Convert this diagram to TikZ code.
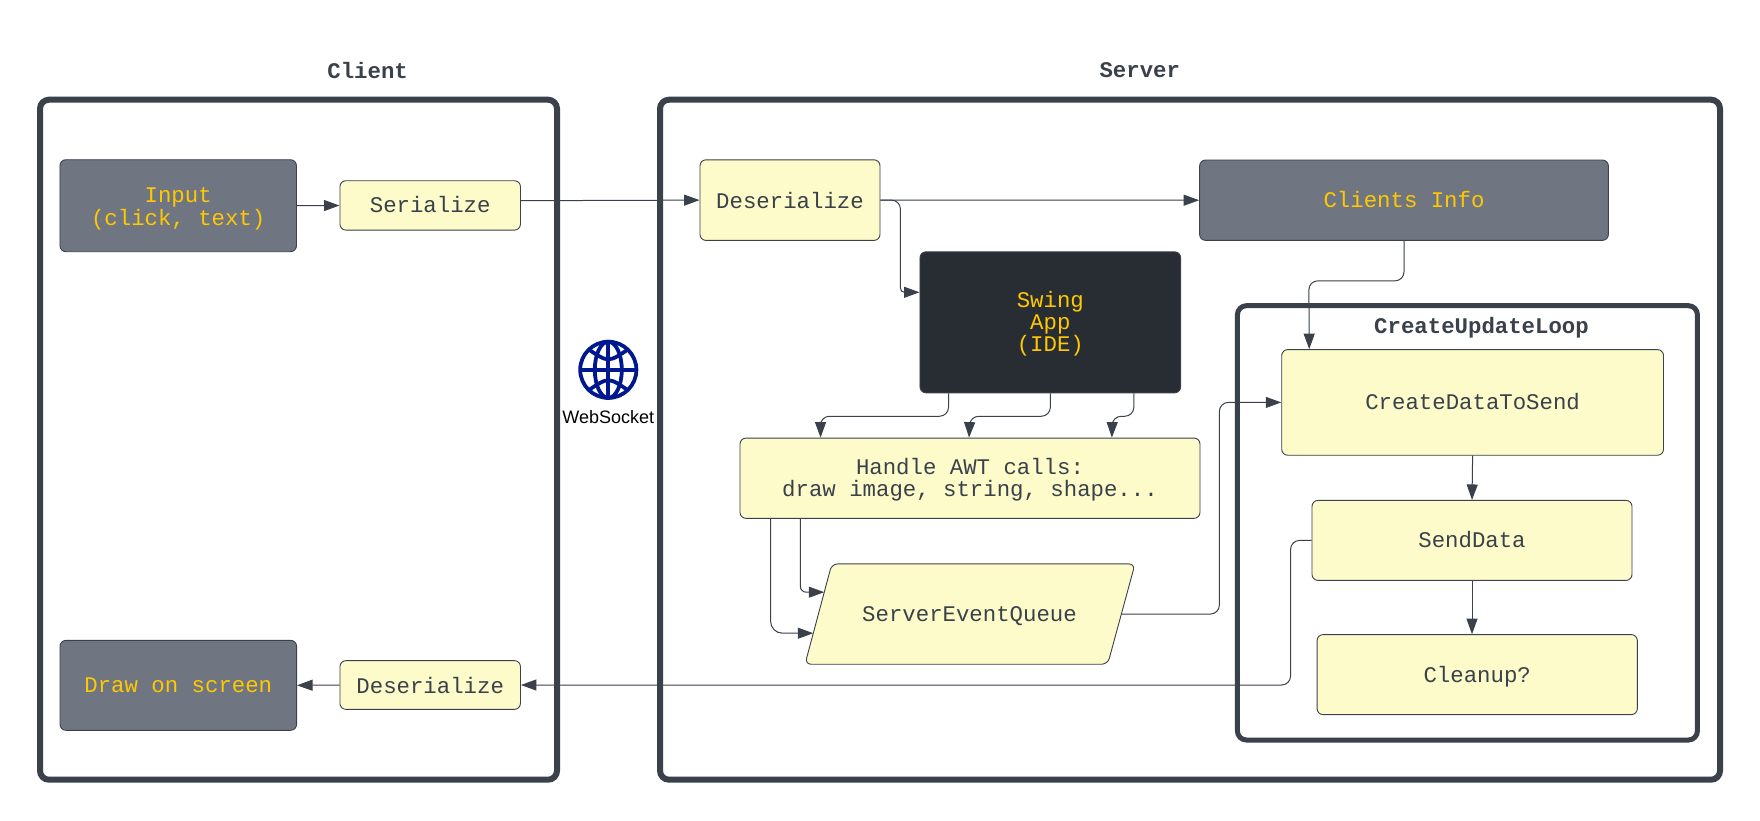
\documentclass[tikz,border=0pt]{standalone}
\usepackage{fontspec}
\setmainfont{Liberation Sans}
\setmonofont{Liberation Mono}
\usetikzlibrary{arrows.meta,calc}
\definecolor{ink}{HTML}{3A414A}
\definecolor{paleyellow}{HTML}{FCFBC9}
\definecolor{midgrey}{HTML}{6F7681}
\definecolor{nearblack}{HTML}{282C33}
\definecolor{gold}{HTML}{FFC800}
\definecolor{netblue}{HTML}{00188F}
\newcommand{\basedrop}[2]{\raisebox{-#1pt}[0pt][0pt]{#2}}
\tikzset{
  x=1pt,y=-1pt,
  boxtext/.style={font=\ttfamily\fontsize{22.35}{22.4}\selectfont},
  boxbase/.style={rectangle,rounded corners=6pt,draw=ink,line width=0.9pt,inner sep=0pt,align=center,boxtext},
  yellowbox/.style={boxbase,fill=paleyellow,text=ink},
  greybox/.style={boxbase,fill=midgrey,text=gold},
  darkbox/.style={boxbase,fill=nearblack,text=gold},
  frame/.style={draw=ink,line width=6pt,rounded corners=9pt},
  titletext/.style={inner sep=0pt,text=ink,font=\ttfamily\bfseries\fontsize{22.35}{24}\selectfont},
  conn/.style={draw=ink,line width=1pt,rounded corners=9pt,-{Triangle[length=15.5pt,width=11pt]}},
  wsz/.style n args={2}{minimum width=#1pt,minimum height=#2pt},
}
\begin{document}
\begin{tikzpicture}
\useasboundingbox (0,0) rectangle (1760,820);
\fill[white] (0,0) rectangle (1760,820);
% frames
\draw[frame] (40,99.7) rectangle (557,779.7);
\draw[frame] (660,99.7) rectangle (1720,779.7);
\draw[frame,line width=5pt] (1237.4,305.7) rectangle (1697.4,740);
% titles
\node[titletext] (tclient) at (367.6,70.5) {Client};
\node[titletext] (tserver) at (1139.8,70) {Server};
\node[titletext] (tloop) at (1481.5,328) {CreateUpdateLoop};
% client nodes
\node[greybox,wsz={236.5}{92}] (input) at (178.2,205.7) {\rule{0pt}{21.4pt}Input\\(click, text)};
\node[yellowbox,wsz={180.5}{49.4}] (ser) at (430.2,205.4) {\basedrop{7}{Serialize}};
\node[greybox,wsz={236.6}{90}] (screen) at (178.3,685.3) {Draw on screen};
\node[yellowbox,wsz={180.5}{48.7}] (dcl) at (430.2,685) {Deserialize};
% server nodes
\node[yellowbox,wsz={180}{80.6}] (dsv) at (790,200.1) {Deserialize};
\node[greybox,wsz={408.8}{80.4}] (info) at (1404,200.2) {\basedrop{7}{Clients Info}};
\node[darkbox,wsz={260.7}{141}] (swing) at (1050.3,322.3) {\rule{0pt}{19pt}Swing\\App\\(IDE)};
\node[yellowbox,wsz={460}{80.3}] (awt) at (970,478.2) {\rule{0pt}{19.4pt}Handle AWT calls:\\draw image, string, shape...};
% parallelogram outline, with its label node on top
\coordinate (qtl) at (831.8,563.9);
\coordinate (qtr) at (1135,563.9);
\coordinate (qbr) at (1107.7,664.2);
\coordinate (qbl) at (805,664.2);
\draw[draw=ink,fill=paleyellow,line width=0.9pt,rounded corners=6pt] (qtl) -- (qtr) -- (qbr) -- (qbl) -- cycle;
\node[inner sep=0pt,text=ink,boxtext] (queue) at (969.5,616) {ServerEventQueue};
\coordinate (qin1) at ($(qbl)!0.309!(qtl)$);
\coordinate (qin2) at ($(qbl)!0.718!(qtl)$);
\coordinate (qout) at ($(qbr)!0.5!(qtr)$);
\node[yellowbox,wsz={381.8}{105.6}] (cdts) at (1472.6,402.4) {\basedrop{6.7}{CreateDataToSend}};
\node[yellowbox,wsz={320}{80}] (send) at (1472,540.4) {\basedrop{6.7}{SendData}};
\node[yellowbox,wsz={320.3}{80}] (clean) at (1477.2,674.6) {\basedrop{7.5}{Cleanup?}};
% websocket
\node[inner sep=0pt,minimum size=60pt] (globe) at (608.3,369.8) {};
\begin{scope}[draw=netblue,line width=3.8pt]
\draw (globe) circle[radius=28.1];
\draw (globe) ellipse[x radius=13.5,y radius=28.1];
\draw (globe.north) -- (globe.south);
\draw ([xshift=-28pt]globe.center) -- ([xshift=28pt]globe.center);
\draw ([shift={(-20.5pt,21pt)}]globe.center) .. controls ([shift={(0pt,7pt)}]globe.center) .. ([shift={(20.5pt,21pt)}]globe.center);
\draw ([shift={(-20.5pt,-21pt)}]globe.center) .. controls ([shift={(0pt,-7pt)}]globe.center) .. ([shift={(20.5pt,-21pt)}]globe.center);
\end{scope}
\node[inner sep=0pt,text=black,font=\fontsize{18}{20}\selectfont] (wslabel) at (608.3,417) {WebSocket};
% connectors
\draw[conn] (input) -- (ser);
\draw[conn] ([yshift=4.7pt]ser.east) -- (dsv.west);
\draw[conn] (dsv.east) -- (info.west);
\draw[conn] (dsv.east) -- ++(20,0) [rounded corners=4pt] |- ([yshift=30pt]swing.west);
\draw[conn] ([xshift=29pt]swing.south west) |- ++(-128,23) -- ([xshift=81pt]awt.north west);
\draw[conn] (swing.south) |- ++(-80.5,23) -- ([xshift=229.5pt]awt.north west);
\draw[conn] ([xshift=83.5pt]swing.south) |- ++(-21.5,23) -- ([xshift=372.3pt]awt.north west);
\draw[conn,rounded corners=12pt] ([xshift=31pt]awt.south west) |- (qin1);
\draw[conn,rounded corners=6pt] ([xshift=60.7pt]awt.south west) |- (qin2);
\draw[conn] (qout) -- ++(98,0) |- (cdts.west);
\draw[conn] (info.south) -- ++(0,40) -- ++(-95.2,0) -- ([xshift=28pt]cdts.north west);
\draw[conn] (cdts.south) -- (send.north);
\draw[conn] (send.south) -- (send.south|-clean.north);
\draw[conn] (send.west) -- ++(-21,0) |- (dcl.east);
\draw[conn] (dcl.west) -- (screen.east);
\end{tikzpicture}
\end{document}
